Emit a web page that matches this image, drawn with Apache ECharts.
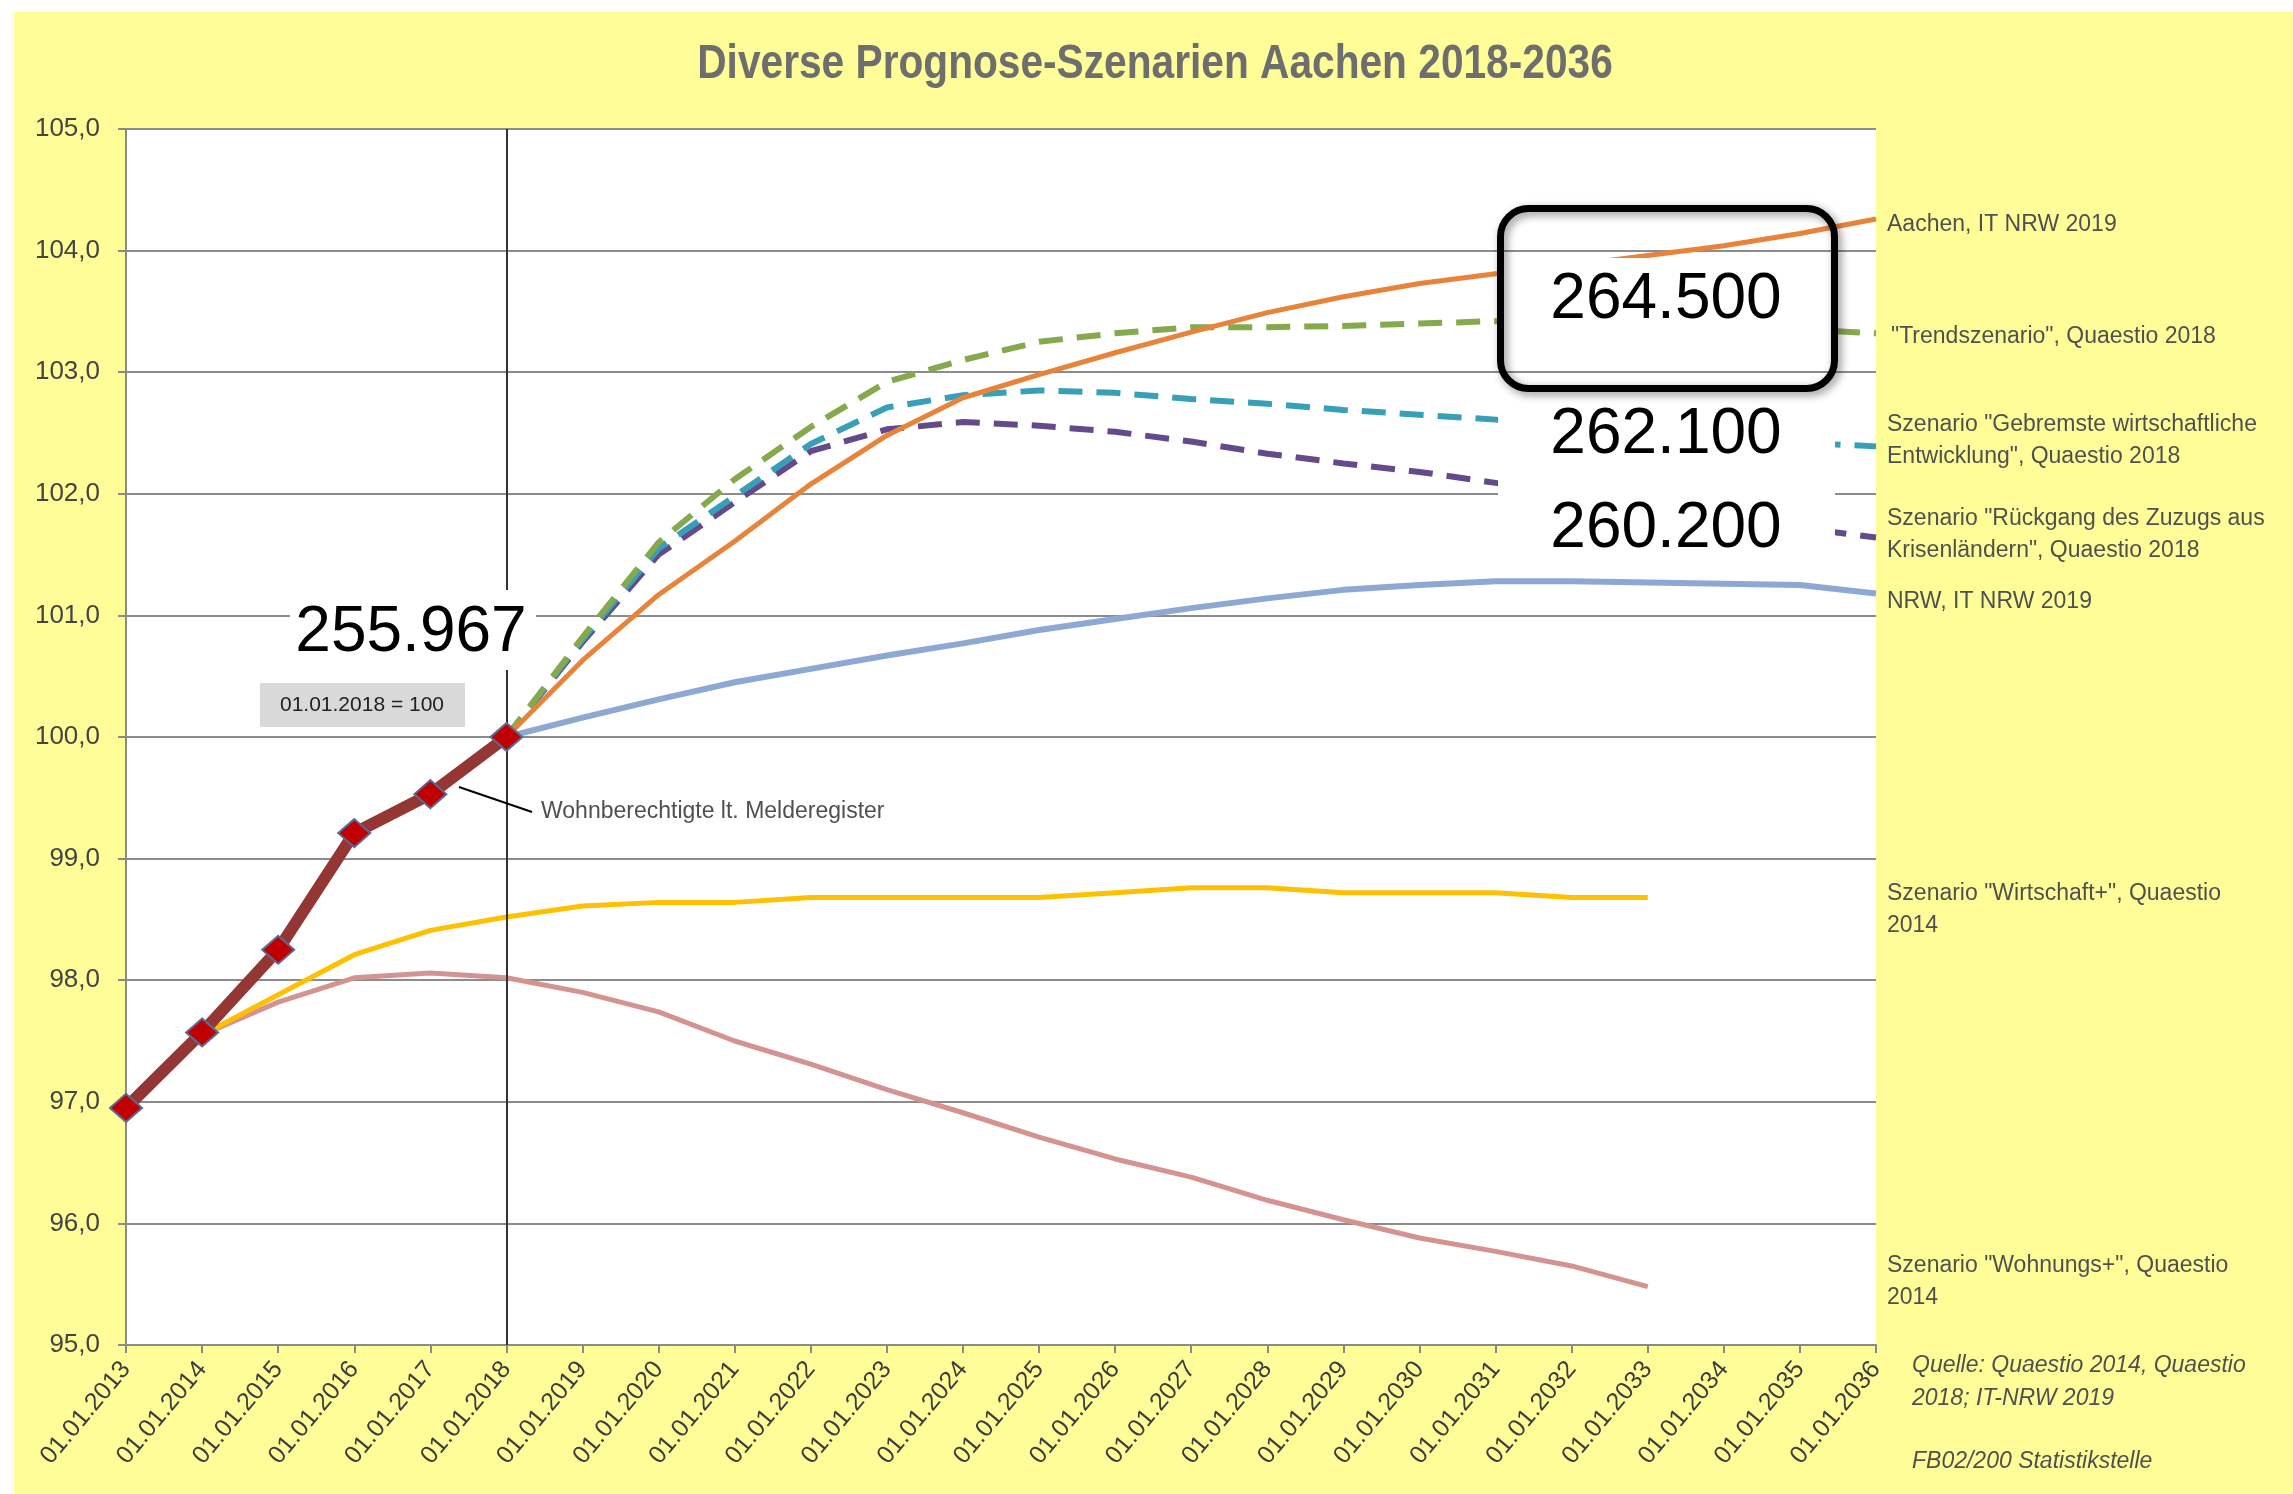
<!DOCTYPE html>
<html>
<head>
<meta charset="utf-8">
<script src="https://cdn.jsdelivr.net/npm/echarts@6/dist/echarts.min.js"></script>
<style>
  html, body { margin: 0; padding: 0; background: #fff; }
  #chart { position: absolute; left: 14px; top: 12px; width: 2279px; height: 1482px; }
</style>
</head>
<body>
<div id="chart"></div>
<script>
// Stichtage (x-Achse)
const years = ['01.01.2013', '01.01.2014', '01.01.2015', '01.01.2016', '01.01.2017', '01.01.2018',
  '01.01.2019', '01.01.2020', '01.01.2021', '01.01.2022', '01.01.2023', '01.01.2024',
  '01.01.2025', '01.01.2026', '01.01.2027', '01.01.2028', '01.01.2029', '01.01.2030',
  '01.01.2031', '01.01.2032', '01.01.2033', '01.01.2034', '01.01.2035', '01.01.2036']

// Ist-Werte 2013-2018 (01.01.2018 = 100)
const wohnberechtigte = [96.95, 97.57, 98.25, 99.21, 99.53, 100.0]
// Quaestio 2014, ab 2013 bis 2033
const wirtschaftPlus = [96.95, 97.55, 97.88, 98.21, 98.41, 98.52, 98.61, 98.64, 98.64, 98.68, 98.68,
  98.68, 98.68, 98.72, 98.76, 98.76, 98.72, 98.72, 98.72, 98.68, 98.68]
const wohnungsPlus = [96.95, 97.55, 97.82, 98.02, 98.06, 98.02, 97.9, 97.74, 97.5, 97.31, 97.1,
  96.91, 96.71, 96.53, 96.38, 96.19, 96.03, 95.88, 95.77, 95.65, 95.48]
// Prognosen ab 2018 bis 2036
const aachenItNrw = [100.0, 100.63, 101.17, 101.61, 102.08, 102.48, 102.79, 102.98, 103.16, 103.33,
  103.49, 103.62, 103.73, 103.81, 103.88, 103.96, 104.04, 104.14, 104.26]
const trendszenario = [100.0, 100.82, 101.6, 102.12, 102.55, 102.92, 103.1, 103.25, 103.32, 103.37,
  103.37, 103.38, 103.4, 103.42, 103.42, 103.4, 103.37, 103.35, 103.32]
const gebremst = [100.0, 100.8, 101.55, 101.98, 102.41, 102.71, 102.81, 102.85, 102.83, 102.78,
  102.74, 102.69, 102.65, 102.61, 102.55, 102.5, 102.46, 102.42, 102.39]
const rueckgang = [100.0, 100.78, 101.5, 101.93, 102.35, 102.53, 102.59, 102.56, 102.51, 102.43,
  102.33, 102.25, 102.18, 102.09, 102.0, 101.9, 101.82, 101.72, 101.64]
const nrw = [100.0, 100.16, 100.31, 100.45, 100.56, 100.67, 100.77, 100.88, 100.97, 101.06,
  101.14, 101.21, 101.25, 101.28, 101.28, 101.27, 101.26, 101.25, 101.18]

const FONT = "'Liberation Sans', Arial, sans-serif"
const TXT = '#505050'

// Prognosen beginnen am 01.01.2018 (Index 5)
const fromIdx = (arr, start) => years.map((_, i) => (i >= start && i - start < arr.length ? arr[i - start] : null))

function lineSeries(name, data, color, width, dashed) {
  return {
    name: name,
    type: 'line',
    data: data,
    symbol: 'none',
    lineStyle: { color: color, width: width, type: dashed ? [24, 14] : 'solid', cap: 'butt' },
    silent: true
  }
}

function label(x, y, text, extra) {
  return Object.assign({
    type: 'text', x: x, y: y, z: 100,
    style: { text: text, fill: TXT, font: '23px ' + FONT, textVerticalAlign: 'middle', lineHeight: 32 }
  }, extra || {})
}

function bigNumber(x, y, text) {
  return {
    type: 'text', x: x, y: y, z: 102,
    style: { text: text, fill: '#000', font: '64px ' + FONT, textAlign: 'center', textVerticalAlign: 'middle' }
  }
}

let chart = echarts.init(document.getElementById('chart'))
let option = {
  animation: false,
  backgroundColor: '#FFFD98',
  grid: {
    left: 112, top: 117, right: 417, bottom: 149,
    show: true, backgroundColor: '#fff', borderWidth: 0
  },
  xAxis: {
    type: 'category',
    data: years,
    boundaryGap: false,
    axisLine: { lineStyle: { color: '#8a8a8a', width: 2 } },
    axisTick: { show: true, interval: 0, length: 8, lineStyle: { color: '#8a8a8a', width: 2 } },
    axisLabel: { interval: 0, rotate: 50, fontSize: 25, fontFamily: FONT, color: '#3d3d3d', margin: 20 },
    splitLine: { show: false }
  },
  yAxis: {
    type: 'value',
    min: 95, max: 105, interval: 1,
    axisLine: { show: true, lineStyle: { color: '#8a8a8a', width: 2 } },
    axisTick: { show: true, length: 8, lineStyle: { color: '#8a8a8a', width: 2 } },
    axisLabel: {
      fontSize: 26, fontFamily: FONT, color: '#444', margin: 26,
      formatter: v => v.toFixed(1).replace('.', ',')
    },
    splitLine: { lineStyle: { color: '#8c8c8c', width: 2 } }
  },
  series: [
    lineSeries('Szenario "Wohnungs+", Quaestio 2014', wohnungsPlus, '#D49391', 5),
    lineSeries('Szenario "Wirtschaft+", Quaestio 2014', wirtschaftPlus, '#FFC000', 5),
    lineSeries('NRW, IT NRW 2019', fromIdx(nrw, 5), '#8EA8D4', 6),
    lineSeries('Szenario "Rückgang des Zuzugs aus Krisenländern", Quaestio 2018', fromIdx(rueckgang, 5), '#654A8A', 6, true),
    lineSeries('Szenario "Gebremste wirtschaftliche Entwicklung", Quaestio 2018', fromIdx(gebremst, 5), '#379FB7', 6, true),
    lineSeries('"Trendszenario", Quaestio 2018', fromIdx(trendszenario, 5), '#85A94C', 6, true),
    lineSeries('Aachen, IT NRW 2019', fromIdx(aachenItNrw, 5), '#E8843A', 5),
    {
      name: 'Wohnberechtigte lt. Melderegister',
      type: 'line',
      data: wohnberechtigte,
      symbol: 'diamond',
      symbolSize: [32, 28],
      itemStyle: { color: '#C00000', borderColor: '#5A6A96', borderWidth: 2 },
      lineStyle: { color: '#943634', width: 12 },
      z: 5,
      silent: true,
      markLine: {
        silent: true,
        symbol: 'none',
        label: { show: false },
        lineStyle: { color: '#333', width: 2, type: 'solid' },
        data: [{ xAxis: '01.01.2018' }]
      }
    }
  ],
  graphic: [
    {
      type: 'text', x: 1141, y: 52, scaleX: 0.83, z: 100,
      style: {
        text: 'Diverse Prognose-Szenarien Aachen 2018-2036', fill: '#6e6e6e',
        font: 'bold 49px ' + FONT, textAlign: 'center', textVerticalAlign: 'middle'
      }
    },
    // 255.967 mit weissem Hintergrund
    { type: 'rect', z: 101, shape: { x: 276, y: 578, width: 246, height: 80 }, style: { fill: '#fff' } },
    bigNumber(397, 621, '255.967'),
    // Basisjahr-Kasten
    { type: 'rect', z: 101, shape: { x: 246, y: 671, width: 205, height: 44 }, style: { fill: '#d9d9d9' } },
    {
      type: 'text', x: 348, y: 693, z: 102,
      style: { text: '01.01.2018 = 100', fill: '#222', font: '21px ' + FONT, textAlign: 'center', textVerticalAlign: 'middle' }
    },
    // Beschriftung Ist-Linie
    { type: 'line', z: 101, shape: { x1: 445, y1: 775, x2: 518, y2: 800 }, style: { stroke: '#000', lineWidth: 2 } },
    label(527, 800, 'Wohnberechtigte lt. Melderegister', null),
    // rechte Zahlenkaesten
    { type: 'rect', z: 101, shape: { x: 1484, y: 378, width: 337, height: 180 }, style: { fill: '#fff' } },
    { type: 'rect', z: 101, shape: { x: 1489, y: 246, width: 330, height: 79 }, style: { fill: '#fff' } },
    {
      type: 'rect', z: 103,
      shape: { x: 1486.5, y: 196.5, width: 334, height: 180, r: 28 },
      style: {
        fill: 'none', stroke: '#000', lineWidth: 7,
        shadowBlur: 8, shadowColor: 'rgba(0,0,0,0.45)', shadowOffsetX: 3, shadowOffsetY: 3
      }
    },
    bigNumber(1652, 288, '264.500'),
    bigNumber(1652, 423, '262.100'),
    bigNumber(1652, 517, '260.200'),
    // Serienbeschriftungen rechts
    label(1873, 213, 'Aachen, IT NRW 2019'),
    label(1877, 325, '"Trendszenario", Quaestio 2018'),
    label(1873, 429, 'Szenario "Gebremste wirtschaftliche\nEntwicklung", Quaestio 2018'),
    label(1873, 523, 'Szenario "Rückgang des Zuzugs aus\nKrisenländern", Quaestio 2018'),
    label(1873, 590, 'NRW, IT NRW 2019'),
    label(1873, 898, 'Szenario "Wirtschaft+", Quaestio\n2014'),
    label(1873, 1270, 'Szenario "Wohnungs+", Quaestio\n2014'),
    {
      type: 'text', x: 1898, y: 1370, z: 100,
      style: { text: 'Quelle: Quaestio 2014, Quaestio\n2018; IT-NRW 2019', fill: TXT, font: 'italic 23px ' + FONT, textVerticalAlign: 'middle', lineHeight: 33 }
    },
    {
      type: 'text', x: 1898, y: 1450, z: 100,
      style: { text: 'FB02/200 Statistikstelle', fill: TXT, font: 'italic 23px ' + FONT, textVerticalAlign: 'middle' }
    }
  ]
}
chart.setOption(option)
</script>
</body>
</html>
